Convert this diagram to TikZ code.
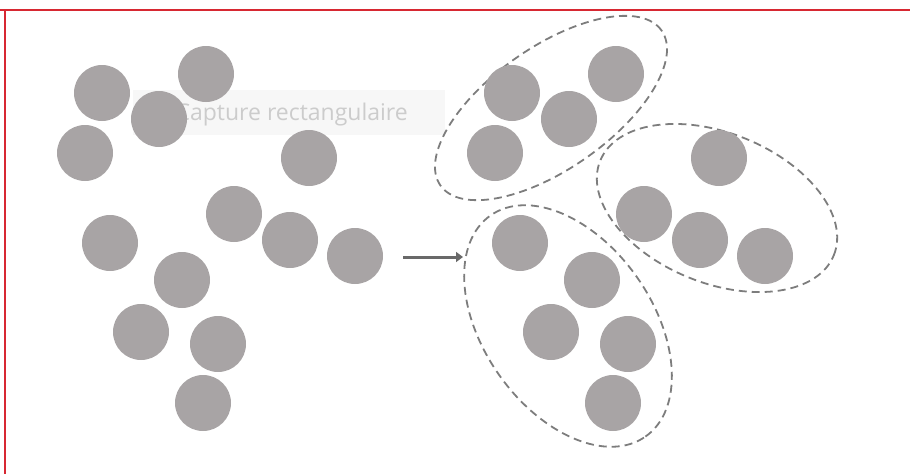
\documentclass[tikz,border=0pt]{standalone}
\usepackage{fontspec}
\newfontfamily\capfont{Open Sans}
\usepackage{tikz}
\usetikzlibrary{shapes.geometric, arrows.meta}

\definecolor{ballgray}{RGB}{168,164,165}
\definecolor{dashgray}{RGB}{125,125,125}
\definecolor{arrowgray}{RGB}{105,105,105}
\definecolor{framered}{RGB}{215,40,50}

\tikzset{
  ball/.style={circle, fill=ballgray, minimum size=56pt, inner sep=0pt},
  group/.style={ellipse, draw=dashgray, line width=1.8pt, dash pattern=on 8pt off 5pt, inner sep=0pt},
  flow/.style={draw=arrowgray, line width=3pt, -{Triangle[length=7pt,width=10pt]}}
}

\begin{document}
\begin{tikzpicture}[x=1pt, y=-1pt]
			\useasboundingbox (0,0) rectangle (910,474);
			
			% Frame
			\draw[framered, line width=2pt] (0,10) -- (910,10);
			\draw[framered, line width=2pt] (5,10) -- (5,474);
			
			% Faint caption left over from the screenshot
			\fill[black!3] (133,90) rectangle (445,135);
			\node[anchor=base east, inner sep=0pt, text=black!20, font=\capfont\fontsize{23}{23}\selectfont] (cap) at (408,120) {Capture rectangulaire};
			
			% Groups
			\node[group, minimum width=270pt, minimum height=122pt, rotate=35] (g1) at (551,108) {};
			\node[group, minimum width=252pt, minimum height=150pt, rotate=-22] (g2) at (717,208) {};
			\node[group, minimum width=270pt, minimum height=169pt, rotate=-55] (g3) at (568,326) {};
			
			% Points, before and after
			\foreach \i/\x/\y in {1/102/93, 2/206/74, 3/159/119, 4/85/153, 5/309/158, 6/234/214, 7/290/240,
			                      8/110/243, 9/355/256, 10/182/280, 11/141/332, 12/218/344, 13/203/403} {
				\node[ball] (l\i) at (\x,\y) {};
				\node[ball] (r\i) at (\x+410,\y) {};
			}
			
			% Arrow
			\coordinate (a0) at (403,257);
			\coordinate (a1) at (463,257);
			\draw[flow] (a0) -- (a1);
		\end{tikzpicture}
\end{document}
